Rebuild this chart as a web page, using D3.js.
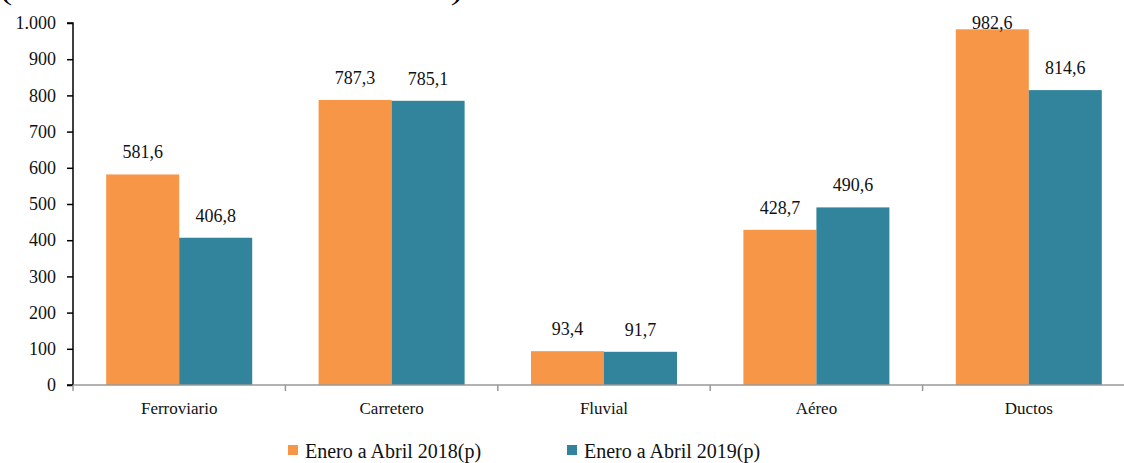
<!DOCTYPE html>
<html>
<head>
<meta charset="utf-8">
<script src="https://cdn.jsdelivr.net/npm/d3@7"></script>
<style>
  body { margin: 0; background: #fff; }
  svg { display: block; }
  svg text { font-family: "Liberation Serif", "DejaVu Serif", serif; }
</style>
</head>
<body>
<svg id="chart" width="1124" height="463"></svg>
<script>
/* DATA */
var categories = ['Ferroviario', 'Carretero', 'Fluvial', 'Aéreo', 'Ductos'];
var seriesNames = ['Enero a Abril 2018(p)', 'Enero a Abril 2019(p)'];
var values2018 = [581.6, 787.3, 93.4, 428.7, 982.6];
var values2019 = [406.8, 785.1, 91.7, 490.6, 814.6];
var yTicks = [0, 100, 200, 300, 400, 500, 600, 700, 800, 900, 1000];
var colors = ['#F79646', '#31849B'];

var svg = d3.select('#chart');
var mLeft = 73, mRight = 1135, mTop = 23, mBottom = 385;

var fmt = function(v) { return d3.format(',.1f')(v).replace('.', ','); };
var fmtTick = function(v) { return d3.format(',')(v).replace(',', '.'); };

var x0 = d3.scaleBand().domain(categories).range([mLeft, mRight]);
var x1 = d3.scaleBand().domain([0, 1]).range([0, 146]);
var y = d3.scaleLinear().domain([0, 1000]).range([mBottom, mTop]);

/* title, cut off at the top like the original */
svg.append('text')
  .attr('x', 1).attr('y', 0)
  .attr('textLength', 461)
  .attr('lengthAdjust', 'spacingAndGlyphs')
  .style('font-size', '26px')
  .text('(Millones de toneladas-kilómetro)');

/* BARS */
var rows = categories.map(function(c, i) { return { cat: c, vals: [values2018[i], values2019[i]] }; });
var groups = svg.selectAll('g.grp').data(rows).enter().append('g')
  .attr('class', 'grp')
  .attr('transform', function(d) { return 'translate(' + (x0(d.cat) + x0.bandwidth() / 2 - 73) + ',0)'; });

groups.selectAll('rect').data(function(d) { return d.vals; }).enter().append('rect')
  .attr('x', function(d, i) { return x1(i); })
  .attr('width', x1.bandwidth())
  .attr('y', function(d) { return y(d); })
  .attr('height', function(d) { return mBottom - y(d); })
  .attr('fill', function(d, i) { return colors[i]; });

groups.selectAll('text').data(function(d) { return d.vals; }).enter().append('text')
  .attr('x', function(d, i) { return x1(i) + x1.bandwidth() / 2; })
  .attr('y', function(d) { return Math.max(y(d) - 16, 29); })
  .attr('text-anchor', 'middle')
  .style('font-size', '18px')
  .attr('fill', '#111')
  .text(fmt);

/* Y AXIS */
var yAxis = svg.append('g')
  .attr('transform', 'translate(' + mLeft + ',0)')
  .call(d3.axisLeft(y).tickValues(yTicks).tickSize(6).tickFormat(fmtTick));
yAxis.select('.domain').attr('stroke', '#000').attr('stroke-width', 1.5).attr('d', 'M-6,' + mTop + 'H0V' + mBottom + 'H-6');
yAxis.selectAll('.tick line').attr('stroke', '#000').attr('stroke-width', 1.5);
yAxis.selectAll('.tick text').attr('x', -17)
  .style('font-size', '18px').attr('fill', '#111');

/* X AXIS */
svg.append('line')
  .attr('x1', mLeft).attr('x2', mRight).attr('y1', mBottom).attr('y2', mBottom)
  .attr('stroke', '#999').attr('stroke-width', 1.5);
svg.selectAll('line.xt').data(categories.concat(['end'])).enter().append('line')
  .attr('class', 'xt')
  .attr('x1', function(d, i) { return mLeft + i * x0.bandwidth(); })
  .attr('x2', function(d, i) { return mLeft + i * x0.bandwidth(); })
  .attr('y1', mBottom).attr('y2', mBottom + 6)
  .attr('stroke', '#999').attr('stroke-width', 1.5);
svg.selectAll('text.xl').data(categories).enter().append('text')
  .attr('class', 'xl')
  .attr('x', function(d) { return x0(d) + x0.bandwidth() / 2; })
  .attr('y', 414)
  .attr('text-anchor', 'middle')
  .style('font-size', '17px')
  .attr('fill', '#111')
  .text(function(d) { return d; });

/* LEGEND */
var legendX = [288, 567];
var leg = svg.selectAll('g.leg').data(seriesNames).enter().append('g')
  .attr('class', 'leg')
  .attr('transform', function(d, i) { return 'translate(' + legendX[i] + ',445)'; });
leg.append('rect').attr('width', 10).attr('height', 10)
  .attr('fill', function(d, i) { return colors[i]; });
leg.append('text').attr('x', 17).attr('y', 13)
  .style('font-size', '20px').attr('fill', '#111')
  .text(function(d) { return d; });
</script>
</body>
</html>
